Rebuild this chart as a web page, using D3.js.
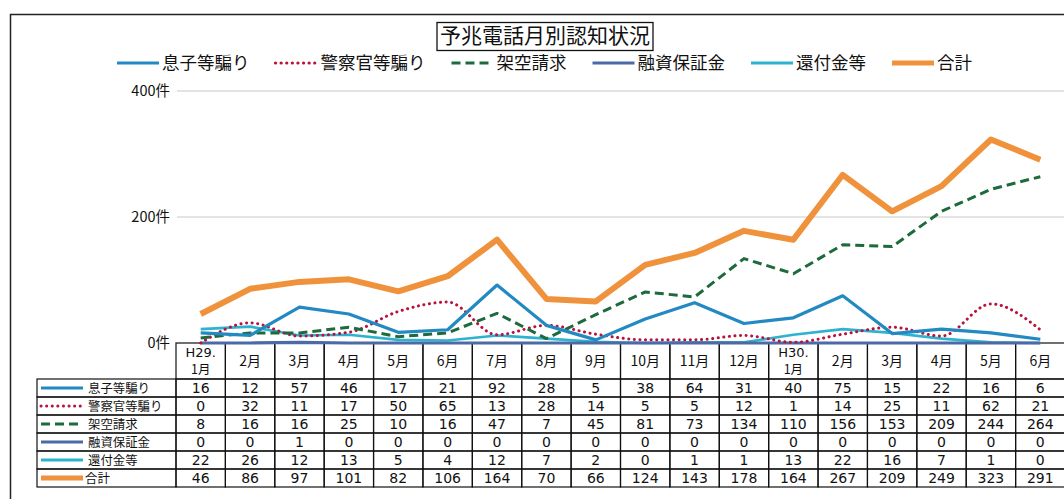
<!DOCTYPE html>
<html>
<head>
<meta charset="utf-8">
<script src="https://cdn.jsdelivr.net/npm/d3@7"></script>
<style>
  body { margin: 0; background: #fff; }
  svg { display: block; font-family: "Noto Sans CJK JP", "Noto Sans", sans-serif; }
  .num { font-family: "DejaVu Sans", sans-serif; }
</style>
</head>
<body>
<div id="chart"></div>
<script>
const months = ["H29.\n1月", "2月", "3月", "4月", "5月", "6月", "7月", "8月", "9月", "10月", "11月", "12月", "H30.\n1月", "2月", "3月", "4月", "5月", "6月"];

const musuko = [16, 12, 57, 46, 17, 21, 92, 28, 5, 38, 64, 31, 40, 75, 15, 22, 16, 6];
const keisatsu = [0, 32, 11, 17, 50, 65, 13, 28, 14, 5, 5, 12, 1, 14, 25, 11, 62, 21];
const kakuu = [8, 16, 16, 25, 10, 16, 47, 7, 45, 81, 73, 134, 110, 156, 153, 209, 244, 264];
const yuushi = [0, 0, 1, 0, 0, 0, 0, 0, 0, 0, 0, 0, 0, 0, 0, 0, 0, 0];
const kanpu = [22, 26, 12, 13, 5, 4, 12, 7, 2, 0, 1, 1, 13, 22, 16, 7, 1, 0];
const goukei = [46, 86, 97, 101, 82, 106, 164, 70, 66, 124, 143, 178, 164, 267, 209, 249, 323, 291];

const seriesNames = ["息子等騙り", "警察官等騙り", "架空請求", "融資保証金", "還付金等", "合計"];
const yTicks = [0, 200, 400];

const series = [
  {name: seriesNames[0], values: musuko, color: "#2389c2", width: 3.2, dash: null, curve: d3.curveLinear},
  {name: seriesNames[1], values: keisatsu, color: "#b8133d", width: 3, dash: "0.1 5.5", curve: d3.curveMonotoneX},
  {name: seriesNames[2], values: kakuu, color: "#1d6a3c", width: 3, dash: "9 5", curve: d3.curveLinear},
  {name: seriesNames[3], values: yuushi, color: "#4b6aa6", width: 3.2, dash: null, curve: d3.curveLinear},
  {name: seriesNames[4], values: kanpu, color: "#2db3cf", width: 2.6, dash: null, curve: d3.curveLinear},
  {name: seriesNames[5], values: goukei, color: "#f0923c", width: 6, dash: null, curve: d3.curveLinear}
];

const width = 1064, height = 499;
const isDotted = s => s.dash && s.dash.startsWith("0.1");

const svg = d3.select("#chart").append("svg")
  .attr("width", width)
  .attr("height", height);

// outer frame
svg.append("path")
  .attr("d", "M10.5,499 V14.5 H1064")
  .attr("fill", "none")
  .attr("stroke", "#222")
  .attr("stroke-width", 1.5);

// title
const title = svg.append("text")
  .attr("x", 545).attr("y", 43)
  .attr("text-anchor", "middle")
  .attr("font-size", 21)
  .attr("fill", "#111")
  .text("予兆電話月別認知状況");
const tb = title.node().getBBox();
svg.append("rect")
  .attr("x", tb.x - 3).attr("y", 22.5)
  .attr("width", tb.width + 6).attr("height", 28)
  .attr("fill", "none").attr("stroke", "#111").attr("stroke-width", 1.3);

// legend
let lx = 117;
const legend = svg.append("g");
series.forEach(s => {
  legend.append("line")
    .attr("x1", lx).attr("x2", lx + 42)
    .attr("y1", 63).attr("y2", 63)
    .attr("stroke", s.color)
    .attr("stroke-width", s.width > 4 ? 5 : 3.2)
    .attr("stroke-linecap", isDotted(s) ? "round" : "butt")
    .attr("stroke-dasharray", s.dash);
  const t = legend.append("text")
    .attr("x", lx + 45).attr("y", 69)
    .attr("font-size", 17.5)
    .attr("fill", "#111")
    .text(s.name);
  lx += 45 + t.node().getComputedTextLength() + 26;
});

// scales
const x = d3.scaleBand()
  .domain(d3.range(months.length))
  .range([176, 1065]);

const y = d3.scaleLinear()
  .domain([0, 400])
  .range([343, 91]);

// grid + y labels
svg.append("g").selectAll("line")
  .data(yTicks.filter(d => d > 0))
  .join("line")
  .attr("x1", 177).attr("x2", 1064)
  .attr("y1", d => y(d)).attr("y2", d => y(d))
  .attr("stroke", "#c8c8c8").attr("stroke-width", 1);

svg.append("g").selectAll("text")
  .data(yTicks)
  .join("text")
  .attr("x", 170)
  .attr("y", d => y(d) + 5)
  .attr("text-anchor", "end")
  .attr("font-size", 14.5)
  .attr("fill", "#111")
  .text(d => d + "件");

// table
const headTop = 343, headH = 36, rowH = 18;
const rowTop = headTop + headH;
const table = svg.append("g")
  .attr("fill", "none")
  .attr("stroke", "#111")
  .attr("stroke-width", 1.2);

// header cells
months.forEach((m, i) => {
  const cx = x(i) + x.bandwidth() / 2;
  table.append("rect")
    .attr("x", x(i)).attr("y", headTop)
    .attr("width", x.bandwidth()).attr("height", headH);
  const lines = m.split("\n");
  if (lines.length > 1) {
    svg.append("text")
      .attr("class", "num")
      .attr("x", cx).attr("y", headTop + 14)
      .attr("text-anchor", "middle")
      .attr("font-size", 13)
      .attr("fill", "#111")
      .text(lines[0]);
    svg.append("text")
      .attr("x", cx).attr("y", headTop + 31)
      .attr("text-anchor", "middle")
      .attr("font-size", 12.5)
      .attr("fill", "#111")
      .text(lines[1]);
  } else {
    svg.append("text")
      .attr("x", cx).attr("y", headTop + headH / 2 + 5)
      .attr("text-anchor", "middle")
      .attr("font-size", 14)
      .attr("fill", "#111")
      .text(m);
  }
});

// body rows
series.forEach((s, r) => {
  const ty = rowTop + r * rowH;
  table.append("rect")
    .attr("x", 37).attr("y", ty)
    .attr("width", x(0) - 37).attr("height", rowH);
  svg.append("line")
    .attr("x1", 41).attr("x2", 83)
    .attr("y1", ty + rowH / 2).attr("y2", ty + rowH / 2)
    .attr("stroke", s.color)
    .attr("stroke-width", s.width > 4 ? 5 : 3)
    .attr("stroke-linecap", isDotted(s) ? "round" : "butt")
    .attr("stroke-dasharray", s.dash);
  svg.append("text")
    .attr("x", s.width > 4 ? 85 : 88).attr("y", ty + rowH / 2 + 4.5)
    .attr("font-size", 12.4)
    .attr("fill", "#111")
    .text(s.name);
  s.values.forEach((v, i) => {
    table.append("rect")
      .attr("x", x(i)).attr("y", ty)
      .attr("width", x.bandwidth()).attr("height", rowH);
    svg.append("text")
      .attr("class", "num")
      .attr("x", x(i) + x.bandwidth() / 2)
      .attr("y", ty + rowH / 2 + 5)
      .attr("text-anchor", "middle")
      .attr("font-size", 14)
      .attr("fill", "#111")
      .text(v);
  });
});

// lines (drawn over the table's top border, as in the original)
const lineGen = d3.line()
  .x((d, i) => x(i) + x.bandwidth() / 2)
  .y(d => y(d));

const order = [4, 3, 1, 2, 0, 5];
svg.append("g").selectAll("path")
  .data(order.map(i => series[i]))
  .join("path")
  .attr("d", s => lineGen.curve(s.curve)(s.values))
  .attr("fill", "none")
  .attr("stroke", s => s.color)
  .attr("stroke-width", s => s.width)
  .attr("stroke-dasharray", s => s.dash)
  .attr("stroke-linecap", s => isDotted(s) ? "round" : "butt")
  .attr("stroke-linejoin", "round");
</script>
</body>
</html>
